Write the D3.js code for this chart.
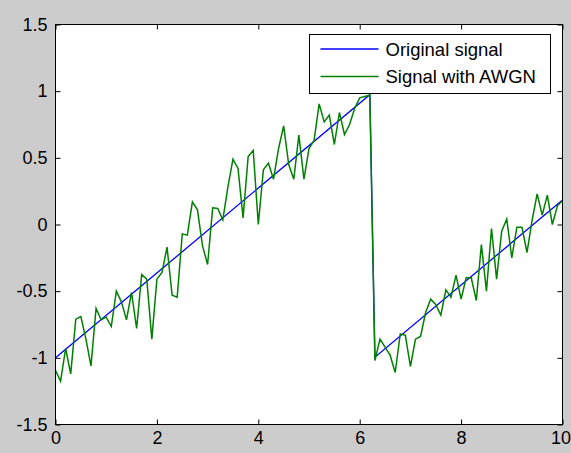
<!DOCTYPE html>
<html>
<head>
<meta charset="utf-8">
<script src="https://cdn.jsdelivr.net/npm/d3@7/dist/d3.min.js"></script>
<style>
  html, body { margin: 0; padding: 0; background: #cccccc; }
  svg { display: block; }
  text { font-family: "Liberation Sans", Arial, Helvetica, sans-serif; }
</style>
</head>
<body>
<svg id="chart" width="571" height="453"></svg>
<script>
// Sawtooth sampled every 0.1 s over 0..10 s, plus the same signal with added noise
const sampleCount = 101;
const sampleStep = 0.1;

// Noisy samples (Signal with AWGN), one per sample time
const noisyValues = [
  -1.095, -1.175, -0.93, -1.12, -0.71, -0.69, -0.86, -1.06, -0.63, -0.715,
  -0.695, -0.765, -0.50, -0.58, -0.715, -0.51, -0.78, -0.375, -0.41, -0.86,
  -0.41, -0.36, -0.17, -0.53, -0.545, -0.07, -0.08, 0.17, 0.11, -0.16,
  -0.30, 0.125, 0.12, 0.035, 0.28, 0.49, 0.42, 0.05, 0.51, 0.555,
  0.0, 0.41, 0.46, 0.34, 0.57, 0.74, 0.45, 0.34, 0.67, 0.34,
  0.57, 0.63, 0.905, 0.77, 0.82, 0.60, 0.84, 0.675, 0.75, 0.87,
  0.95, 0.96, 0.97, -1.02, -0.86, -0.92, -0.98, -1.11, -0.82, -0.83,
  -1.065, -0.86, -0.84, -0.66, -0.56, -0.60, -0.68, -0.49, -0.545, -0.38,
  -0.56, -0.40, -0.40, -0.57, -0.15, -0.50, -0.03, -0.41, -0.05, 0.04,
  -0.25, -0.02, -0.02, -0.21, 0.03, 0.23, 0.07, 0.22, 0.0, 0.14,
  0.18
];

// Original signal: corner points of the sampled sawtooth (straight between them)
const originalTimes = [0, 6.2, 6.3, 10];
const originalValues = [-1, 0.9735, -0.9947, 0.1831];

const xTickValues = [0, 2, 4, 6, 8, 10];
const yTickValues = [-1.5, -1, -0.5, 0, 0.5, 1, 1.5];
const yTickLabels = ["-1.5", "-1", "-0.5", "0", "0.5", "1", "1.5"];
const seriesNames = ["Original signal", "Signal with AWGN"];
const seriesColors = ["#0000ff", "#008000"];

const svg = d3.select("#chart");
const box = { left: 55.5, right: 562.5, top: 24.5, bottom: 424.5 };

const x = d3.scaleLinear().domain([0, 10]).range([box.left, box.right]);
const y = d3.scaleLinear().domain([-1.5, 1.5]).range([box.bottom, box.top]);

// White axes area
svg.append("rect")
  .attr("x", box.left).attr("y", box.top)
  .attr("width", box.right - box.left).attr("height", box.bottom - box.top)
  .attr("fill", "#ffffff");

// Data lines
const times = d3.range(sampleCount).map(i => +(i * sampleStep).toFixed(1));
const original = originalTimes.map((t, i) => [t, originalValues[i]]);
const noisy = times.map((t, i) => [t, noisyValues[i]]);

const line = d3.line().x(d => x(d[0])).y(d => y(d[1]));

const plotG = svg.append("g");
plotG.append("path").datum(original)
  .attr("d", line).attr("fill", "none")
  .attr("stroke", seriesColors[0]).attr("stroke-width", 1.3);
plotG.append("path").datum(noisy)
  .attr("d", line).attr("fill", "none")
  .attr("stroke", seriesColors[1]).attr("stroke-width", 1.5)
  .attr("stroke-linejoin", "miter");

// Axes: inward ticks on all four sides, labels on bottom and left
const tickLen = 5;
const fontSize = 18;

const bottomAxis = d3.axisBottom(x).tickValues(xTickValues)
  .tickSizeInner(-tickLen).tickSizeOuter(0).tickPadding(7)
  .tickFormat(d3.format("d"));
const leftAxis = d3.axisLeft(y).tickValues(yTickValues)
  .tickSizeInner(-tickLen).tickSizeOuter(0).tickPadding(8)
  .tickFormat((d, i) => yTickLabels[i]);
const topAxis = d3.axisTop(x).tickValues(xTickValues)
  .tickSizeInner(-tickLen).tickSizeOuter(0).tickFormat("");
const rightAxis = d3.axisRight(y).tickValues(yTickValues)
  .tickSizeInner(-tickLen).tickSizeOuter(0).tickFormat("");

function styleAxis(g) {
  g.select(".domain").remove();
  g.selectAll(".tick line").attr("stroke", "#000").attr("stroke-width", 1);
  g.selectAll(".tick text")
    .attr("fill", "#000")
    .style("font-size", fontSize + "px")
    .style("font-family", "'Liberation Sans', Arial, Helvetica, sans-serif");
}

const gBottom = svg.append("g").attr("transform", `translate(0,${box.bottom})`).call(bottomAxis).call(styleAxis);
// keep the last x label inside the window
gBottom.selectAll(".tick text").filter(d => d === 10).attr("dx", "-2");
svg.append("g").attr("transform", `translate(${box.left},0)`).call(leftAxis).call(styleAxis);
svg.append("g").attr("transform", `translate(0,${box.top})`).call(topAxis).call(styleAxis);
svg.append("g").attr("transform", `translate(${box.right},0)`).call(rightAxis).call(styleAxis);

// Axes frame
svg.append("rect")
  .attr("x", box.left).attr("y", box.top)
  .attr("width", box.right - box.left).attr("height", box.bottom - box.top)
  .attr("fill", "none").attr("stroke", "#000").attr("stroke-width", 1);

// Legend
const legend = svg.append("g").attr("transform", "translate(309.5,34.5)");
legend.append("rect")
  .attr("width", 241).attr("height", 59)
  .attr("fill", "#ffffff").attr("stroke", "#000").attr("stroke-width", 1);
const rowY = [14.5, 42];
seriesNames.forEach((name, i) => {
  legend.append("line")
    .attr("x1", 11).attr("x2", 69)
    .attr("y1", rowY[i]).attr("y2", rowY[i])
    .attr("stroke", seriesColors[i]).attr("stroke-width", 1.3);
  legend.append("text")
    .attr("x", 76).attr("y", rowY[i])
    .attr("dy", "0.36em")
    .attr("fill", "#000")
    .style("font-size", "18.5px")
    .text(name);
});
</script>
</body>
</html>
